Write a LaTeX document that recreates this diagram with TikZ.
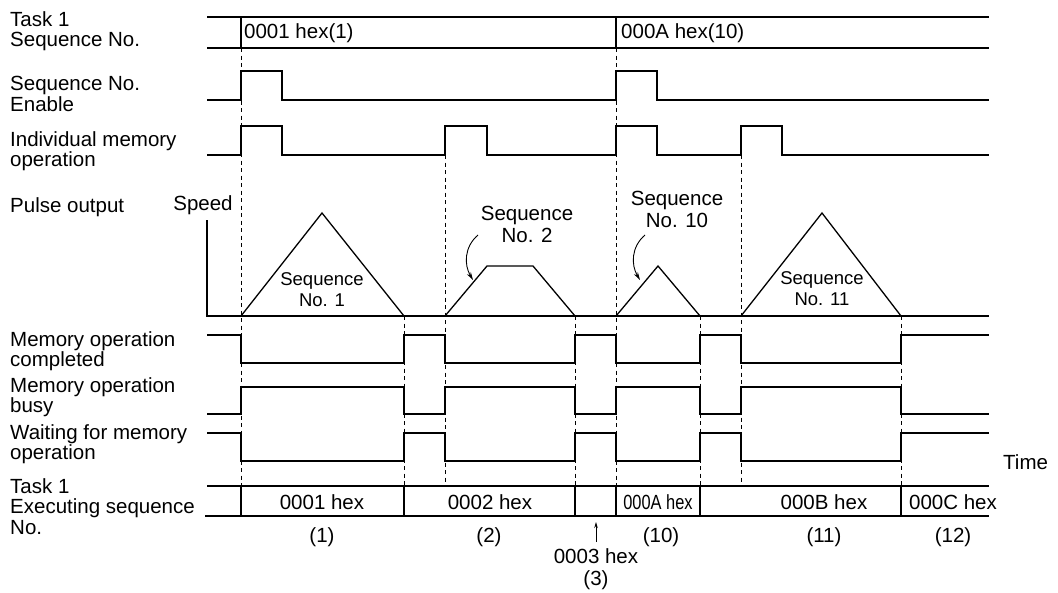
\documentclass[tikz,border=0pt]{standalone}
\usepackage{fontspec}
\setmainfont{Liberation Sans}
\usetikzlibrary{arrows.meta}
\begin{document}
\begin{tikzpicture}[x=1pt,y=-1pt,
  lbl/.style={anchor=north west, inner sep=0pt, align=left, font=\fontsize{20.5}{20.5}\selectfont},
  txt/.style={inner sep=0pt, font=\fontsize{20.5}{21}\selectfont},
  small/.style={inner sep=0pt, align=center, font=\fontsize{18.5}{21}\selectfont},
  big/.style={inner sep=0pt, align=center, font=\fontsize{20.5}{22}\selectfont},
  sig/.style={line width=1.3pt, line join=miter},
  thick bus/.style={line width=1.9pt},
  dsh/.style={line width=0.8pt, dash pattern=on 4pt off 3.5pt},
  curarrow/.style={line width=0.9pt, -{Stealth[length=8pt,width=4.5pt]}},
  uparrow/.style={line width=0.9pt, -{Stealth[length=6pt,width=3.5pt]}}
]
\useasboundingbox (0,0) rectangle (1058,592);

% ---- left labels ----
\node[lbl] (l1) at (10,11) {Task 1\\Sequence No.};
\node[lbl] (l2) at (10,76) {Sequence No.\\Enable};
\node[lbl] (l3) at (10,131) {Individual memory\\operation};
\node[lbl] (l4) at (10,197) {Pulse output};
\node[lbl] (l5) at (10,331) {Memory operation\\completed};
\node[lbl] (l6) at (10,377) {Memory operation\\busy};
\node[lbl] (l7) at (10,424) {Waiting for memory\\operation};
\node[lbl] (l8) at (10,478) {Task 1\\Executing sequence\\No.};

% ---- dashed guides ----
\foreach \x in {241,616} \draw[dsh] (\x,48) -- (\x,486);
\foreach \x in {445,741} \draw[dsh] (\x,155) -- (\x,486);
\foreach \x in {404,575,700,901} \draw[dsh] (\x,316) -- (\x,486);

% ---- Task 1 Sequence No. bus ----
\draw[sig] (207,17) -- (989,17);
\draw[sig] (207,48) -- (989,48);
\draw[sig] (241,17) -- (241,48);
\draw[sig] (616,17) -- (616,48);
\node[txt, anchor=west] (s1) at (244,33) {0001 hex(1)};
\node[txt, anchor=west] (s10) at (621,33) {000A hex(10)};

% ---- Sequence No. Enable ----
\draw[sig] (207,100) -- (241,100) -- (241,71) -- (282,71) -- (282,100) -- (616,100)
  -- (616,71) -- (657,71) -- (657,100) -- (989,100);

% ---- Individual memory operation ----
\draw[sig] (207,155) -- (241,155) -- (241,126) -- (282,126) -- (282,155) -- (445,155)
  -- (445,126) -- (487,126) -- (487,155) -- (616,155) -- (616,126) -- (657,126)
  -- (657,155) -- (741,155) -- (741,126) -- (782,126) -- (782,155) -- (989,155);

% ---- Pulse output ----
\node[txt] (speed) at (203,205) {Speed};
\draw[sig] (207,220) -- (207,316) -- (989,316);
\draw[sig] (241,316) -- (322,213) -- (404,316);
\draw[sig] (445,316) -- (487,266) -- (533,266) -- (575,316);
\draw[sig] (616,316) -- (658,266) -- (700,316);
\draw[sig] (741,316) -- (822,213) -- (901,316);
\node[small] (q1) at (322,290) {Sequence\\No. 1};
\node[big] (q2) at (527,224) {Sequence\\No. 2};
\node[big] (q10) at (677,209) {Sequence\\No. 10};
\node[small] (q11) at (822,289) {Sequence\\No. 11};
\coordinate (a2s) at (478,235);
\coordinate (a2e) at (473,280);
\coordinate (a10s) at (645,235);
\coordinate (a10e) at (640,280);
\draw[curarrow] (a2s) .. controls (464,247) and (464,265) .. (a2e);
\draw[curarrow] (a10s) .. controls (631,247) and (631,265) .. (a10e);

% ---- Memory operation completed ----
\draw[sig] (207,335) -- (241,335) -- (241,363) -- (404,363) -- (404,335) -- (445,335)
  -- (445,363) -- (575,363) -- (575,335) -- (616,335) -- (616,363) -- (700,363)
  -- (700,335) -- (741,335) -- (741,363) -- (901,363) -- (901,335) -- (989,335);

% ---- Memory operation busy ----
\draw[sig] (207,414) -- (241,414) -- (241,387) -- (404,387) -- (404,414) -- (445,414)
  -- (445,387) -- (575,387) -- (575,414) -- (616,414) -- (616,387) -- (700,387)
  -- (700,414) -- (741,414) -- (741,387) -- (901,387) -- (901,414) -- (989,414);

% ---- Waiting for memory operation ----
\draw[sig] (207,433) -- (241,433) -- (241,461) -- (404,461) -- (404,433) -- (445,433)
  -- (445,461) -- (575,461) -- (575,433) -- (616,433) -- (616,461) -- (700,461)
  -- (700,433) -- (741,433) -- (741,461) -- (901,461) -- (901,433) -- (989,433);
\node[txt, anchor=west] (time) at (1003,462) {Time};

% ---- Task 1 Executing sequence No. ----
\draw[sig] (207,486) -- (989,486);
\draw[thick bus] (205,516) -- (989,516);
\foreach \x in {241,404,575,616,700,901} \draw[sig] (\x,486) -- (\x,516);
\node[txt] (e1) at (322,502) {0001 hex};
\node[txt] (e2) at (490,502) {0002 hex};
\node[txt] (e10) at (658,502) {\scalebox{0.8}[1]{000A hex}};
\node[txt] (e11) at (824,502) {000B hex};
\node[txt] (e12) at (953,502) {000C hex};
\node[txt] (n1) at (322,537) {(1)};
\node[txt] (n2) at (489,537) {(2)};
\node[txt] (n10) at (661,537) {(10)};
\node[txt] (n11) at (824,537) {(11)};
\node[txt] (n12) at (953,537) {(12)};
\node[big] (n3) at (596,569) {0003 hex\\(3)};
\coordinate (up) at (596,522);
\draw[uparrow] (596,542) -- (up);
\end{tikzpicture}
\end{document}
